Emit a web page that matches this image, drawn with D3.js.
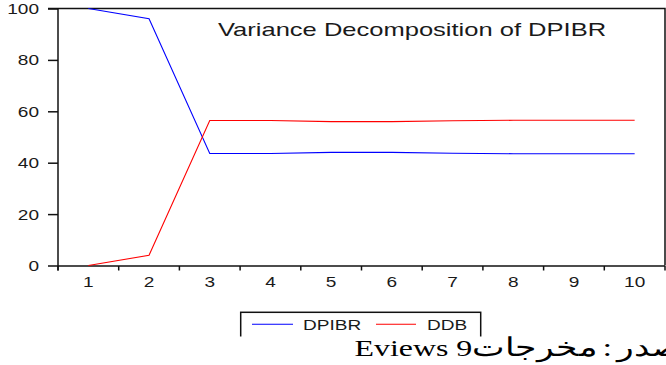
<!DOCTYPE html>
<html>
<head>
<meta charset="utf-8">
<script src="https://cdn.jsdelivr.net/npm/d3@7"></script>
<style>
  html, body { margin: 0; padding: 0; background: #fff; }
  svg { display: block; }
</style>
</head>
<body>
<svg id="chart" width="666" height="365"></svg>
<script>
// ---- data ----
const periods = ["1","2","3","4","5","6","7","8","9","10"];
const dpibr = [100, 96.0, 43.6, 43.6, 44.0, 44.0, 43.7, 43.5, 43.5, 43.5];
const ddb   = [0, 4.0, 56.4, 56.4, 56.0, 56.0, 56.3, 56.5, 56.5, 56.5];
const yTicks = [0, 20, 40, 60, 80, 100];
const seriesNames = ["DPIBR", "DDB"];
const seriesColors = ["#0000ff", "#ff0000"];
const titleText = "Variance Decomposition of DPIBR";
const sourceArabic = "المصدر : مخرجات";
const sourceLatin = "Eviews 9";

// ---- layout ----
const svg = d3.select("#chart");
const L = 58, R = 665, T = 8.5, B = 265.5;
const SX = 1.36; // horizontal text stretch seen in the reference

const x = d3.scaleBand().domain(periods).range([L, R]).padding(0);
const y = d3.scaleLinear().domain([0, 100]).range([B, T]);
const cx = d => x(d) + x.bandwidth() / 2;

// frame (top and right)
svg.append("path")
  .attr("d", `M${L - 10},${T} H${R} V${B}`)
  .attr("fill", "none").attr("stroke", "#111").attr("stroke-width", 1.5);

// y axis
const yAxis = svg.append("g").attr("transform", `translate(${L},0)`)
  .call(d3.axisLeft(y).tickValues(yTicks).tickSize(10).tickSizeOuter(0));
yAxis.select(".domain").attr("stroke", "#111").attr("stroke-width", 1.5)
  .attr("d", `M0,${T}V${B + 5}`);
yAxis.selectAll(".tick line").attr("stroke", "#111").attr("stroke-width", 1.5);
yAxis.selectAll(".tick text")
  .attr("x", null).attr("dy", null)
  .attr("transform", "translate(-19,5) scale(" + SX + ",1)")
  .attr("text-anchor", "end")
  .style("font-family", "Liberation Sans, Arial, sans-serif")
  .style("font-size", "14px").attr("fill", "#1a1a1a");

// x axis: labels at band centres
const xAxis = svg.append("g").attr("transform", `translate(0,${B + 0.5})`)
  .call(d3.axisBottom(x).tickSize(0).tickSizeOuter(0));
xAxis.select(".domain").attr("stroke", "#111").attr("stroke-width", 1.5)
  .attr("d", `M${L},0H${R}`);
xAxis.selectAll(".tick text")
  .attr("y", null).attr("dy", null)
  .attr("transform", "translate(0,21) scale(" + SX + ",1)")
  .style("font-family", "Liberation Sans, Arial, sans-serif")
  .style("font-size", "14px").attr("fill", "#1a1a1a");
// tick marks at band boundaries
const bounds = periods.map(p => x(p)).concat([R]);
svg.append("g").selectAll("line").data(bounds).join("line")
  .attr("x1", d => d).attr("x2", d => d)
  .attr("y1", B + 0.5).attr("y2", B + 5)
  .attr("stroke", "#111").attr("stroke-width", 1.5);

// series lines
const line = d3.line().x((d, i) => cx(periods[i])).y(d => y(d));
[dpibr, ddb].forEach((vals, k) => {
  svg.append("path").datum(vals)
    .attr("d", line).attr("fill", "none")
    .attr("stroke", seriesColors[k]).attr("stroke-width", 1.1);
});

// title
svg.append("text")
  .attr("transform", "translate(218,36) scale(1.38,1)")
  .style("font-family", "Liberation Sans, Arial, sans-serif")
  .style("font-size", "18.5px").attr("fill", "#1a1a1a")
  .text(titleText);

// legend
const leg = svg.append("g");
leg.append("rect").attr("x", 240.7).attr("y", 312.3).attr("width", 240).attr("height", 40)
  .attr("fill", "#fff").attr("stroke", "#111").attr("stroke-width", 1.5);
const legItems = [
  { x1: 252, x2: 293, tx: 303 },
  { x1: 376, x2: 416, tx: 427 }
];
legItems.forEach((it, k) => {
  leg.append("line").attr("x1", it.x1).attr("x2", it.x2).attr("y1", 324.3).attr("y2", 324.3)
    .attr("stroke", seriesColors[k]).attr("stroke-width", 1.1);
  leg.append("text")
    .attr("transform", `translate(${it.tx},329.5) scale(${SX},1)`)
    .style("font-family", "Liberation Sans, Arial, sans-serif")
    .style("font-size", "14px").attr("fill", "#1a1a1a")
    .text(seriesNames[k]);
});

// source line band (covers lower legend as in the reference)
svg.append("rect").attr("x", 0).attr("y", 336.5).attr("width", 666).attr("height", 30).attr("fill", "#fff");
const src = svg.append("text")
  .attr("direction", "rtl")
  .style("direction", "rtl")
  .style("unicode-bidi", "embed")
  .attr("text-anchor", "start")
  .attr("x", 0).attr("y", 0)
  .style("font-family", "Liberation Serif, 'Times New Roman', serif")
  .style("font-size", "24px").attr("fill", "#000");
src.append("tspan").style("word-spacing", "-3px").style("font-size", "26px").text(sourceArabic);
src.append("tspan").text(sourceLatin);
const bb = src.node().getBBox();
src.attr("transform", `translate(${356 - bb.x * 1.33},355.7) scale(1.33,1)`);
</script>
</body>
</html>
